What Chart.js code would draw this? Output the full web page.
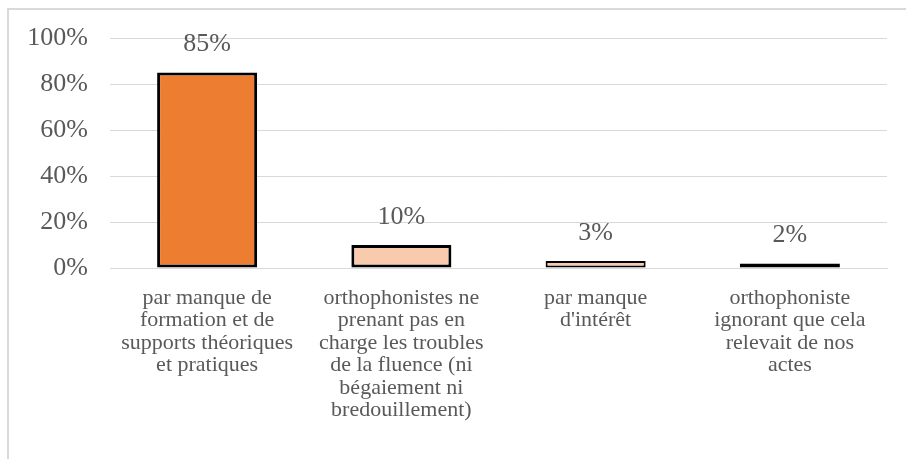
<!DOCTYPE html>
<html>
<head>
<meta charset="utf-8">
<script src="https://cdn.jsdelivr.net/npm/chart.js@4/dist/chart.umd.min.js"></script>
<style>
  html, body { margin: 0; padding: 0; background: #fff; }
  body { width: 906px; height: 459px; overflow: hidden; position: relative; }
  #frame { position: absolute; left: 7px; top: 8px; width: 1000px; height: 1000px; border: 2px solid #d9d9d9; box-sizing: border-box; }
  #wrap { position: absolute; left: 0; top: 0; width: 906px; height: 459px; }
</style>
</head>
<body>
<div id="frame"></div>
<div id="wrap"><canvas id="chart"></canvas></div>
<script>
const categories = [
  ['par manque de', 'formation et de', 'supports théoriques', 'et pratiques'],
  ['orthophonistes ne', 'prenant pas en', 'charge les troubles', 'de la fluence (ni', 'bégaiement ni', 'bredouillement)'],
  ['par manque', "d'intérêt"],
  ['orthophoniste', 'ignorant que cela', 'relevait de nos', 'actes']
];
const values = [85, 10, 3, 2];
const barColors = ['#ED7D31', '#F8CBAD', '#F8CBAD', '#F8CBAD'];
const yTicks = [0, 20, 40, 60, 80, 100];

const textColor = '#595959';
const serif = "'Liberation Serif', 'Times New Roman', serif";

const valueLabels = {
  id: 'valueLabels',
  afterDatasetsDraw(chart) {
    const ctx = chart.ctx;
    const meta = chart.getDatasetMeta(0);
    ctx.save();
    ctx.font = '26px ' + serif;
    ctx.fillStyle = textColor;
    ctx.textAlign = 'center';
    ctx.textBaseline = 'middle';
    meta.data.forEach((bar, i) => {
      ctx.fillText(values[i] + '%', bar.x, bar.y - 28);
    });
    ctx.restore();
  }
};

new Chart(document.getElementById('chart'), {
  type: 'bar',
  data: {
    labels: categories,
    datasets: [{
      data: values,
      backgroundColor: barColors,
      borderColor: '#000000',
      borderWidth: [3, 3, 2, 2],
      borderSkipped: false,
      barPercentage: 1,
      categoryPercentage: 0.515
    }]
  },
  options: {
    responsive: true,
    maintainAspectRatio: false,
    animation: false,
    layout: { padding: { left: 0, top: 38, right: 19, bottom: 0 } },
    scales: {
      x: {
        grid: { display: false, drawTicks: false },
        border: { display: true, color: '#d9d9d9', width: 1 },
        ticks: {
          color: textColor,
          font: { family: serif, size: 22, lineHeight: 1.02 },
          padding: 19,
          maxRotation: 0,
          autoSkip: false
        },
        afterFit(scale) { scale.height = 459 - 268; }
      },
      y: {
        min: 0,
        max: 100,
        afterBuildTicks(scale) { scale.ticks = yTicks.map(v => ({ value: v })); },
        grid: { color: '#d9d9d9', lineWidth: 1, drawTicks: false },
        border: { display: false },
        ticks: {
          color: textColor,
          font: { family: serif, size: 26 },
          padding: 22,
          callback: v => v + '%'
        },
        afterFit(scale) { scale.width = 110; }
      }
    },
    plugins: {
      legend: { display: false },
      tooltip: { enabled: false }
    }
  },
  plugins: [valueLabels]
});
</script>
</body>
</html>
